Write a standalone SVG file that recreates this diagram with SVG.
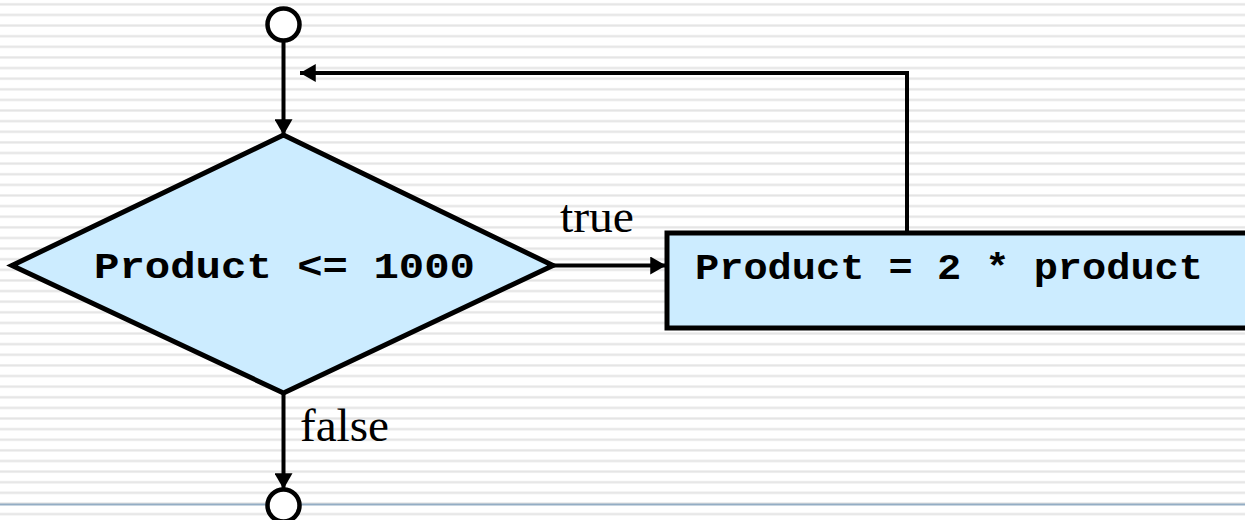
<svg xmlns="http://www.w3.org/2000/svg" width="1245" height="520" viewBox="0 0 1245 520">
  <defs>
    <pattern id="stripes" x="0" y="0" width="20" height="10.62" patternUnits="userSpaceOnUse">
      <rect x="0" y="3.4" width="20" height="1.2" fill="#dadada"/>
      <rect x="0" y="4.6" width="20" height="1" fill="#eaeaea"/>
    </pattern>
    <marker id="arrow" markerUnits="userSpaceOnUse" markerWidth="16" markerHeight="18" viewBox="0 0 14 16" refX="14" refY="8" orient="auto">
      <path d="M0,0 L14,8 L0,16 Z" fill="#000"/>
    </marker>
    <style>
      .flow { fill: none; stroke: #000; stroke-width: 4; }
      .shape { fill: #ccecff; stroke: #000; stroke-width: 5; stroke-linejoin: miter; }
      .term { fill: #fff; stroke: #000; stroke-width: 4.5; }
      .code { font-family: "Liberation Mono", "Courier New", monospace; font-weight: bold; font-size: 36px; fill: #000; }
      .label { font-family: "Liberation Serif", "Times New Roman", serif; font-size: 46px; fill: #000; }
    </style>
  </defs>

  <!-- slide background -->
  <rect x="0" y="0" width="1245" height="520" fill="#fff"/>
  <rect x="0" y="0" width="1245" height="520" fill="url(#stripes)"/>
  <rect x="0" y="503.5" width="1245" height="2" fill="#94adc4"/>

  <!-- connectors -->
  <g id="connectors">
    <line class="flow" x1="283.5" y1="41" x2="283.5" y2="135" marker-end="url(#arrow)"/>
    <line class="flow" x1="553" y1="265.5" x2="666" y2="265.5" marker-end="url(#arrow)"/>
    <polyline class="flow" points="907,233 907,73 300,73" marker-end="url(#arrow)"/>
    <line class="flow" x1="283.5" y1="393" x2="283.5" y2="489" marker-end="url(#arrow)"/>
    <text class="label" x="560" y="232" textLength="74" lengthAdjust="spacingAndGlyphs">true</text>
    <text class="label" x="300" y="441" textLength="89" lengthAdjust="spacingAndGlyphs">false</text>
  </g>

  <!-- start terminal -->
  <g id="start">
    <circle class="term" cx="283.5" cy="24.5" r="16"/>
  </g>

  <!-- loop condition -->
  <g id="condition">
    <polygon class="shape" points="283.5,135 553,265.5 283.5,393 12,265.5"/>
    <text class="code" x="94" y="278" textLength="381" lengthAdjust="spacingAndGlyphs">Product &lt;= 1000</text>
  </g>

  <!-- loop body -->
  <g id="body">
    <rect class="shape" x="667" y="233" width="600" height="95"/>
    <text class="code" x="695" y="279" textLength="508" lengthAdjust="spacingAndGlyphs">Product = 2 * product</text>
  </g>

  <!-- end terminal -->
  <g id="end">
    <circle class="term" cx="283.5" cy="505.5" r="16"/>
  </g>
</svg>
